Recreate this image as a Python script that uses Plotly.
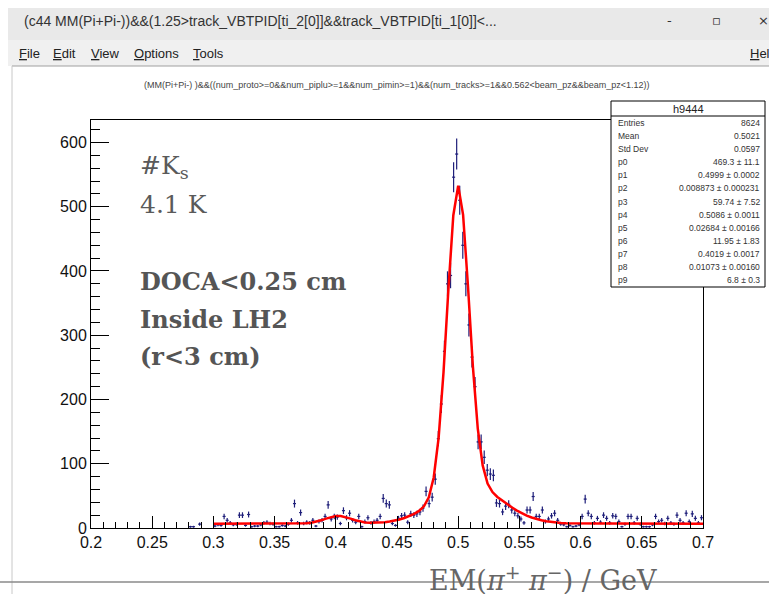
import numpy as np
import plotly.graph_objects as go

# ---------------- data ----------------
bin_width = 0.0025
first_bin_low = 0.28
counts = [2, 2, 0, 6, 0, 0, 0, 0, 3, 5, 4, 18, 12, 8, 5, 6, 20, 20, 4, 21,
          2, 3, 3, 5, 8, 9, 7, 6, 2, 2, 4, 3, 6, 12, 38, 8, 24, 7, 9, 8,
          12, 3, 10, 12, 18, 36, 14, 18, 17, 7, 27, 16, 23, 12, 9, 18, 2, 10, 16, 8,
          10, 12, 18, 46, 38, 36, 7, 4, 15, 19, 20, 9, 22, 20, 22, 25, 31, 57, 38, 48,
          76, 139, 193, 275, 380, 393, 546, 582, 510, 440, 380, 316, 266, 220, 134, 134, 110, 90, 84, 82,
          39, 38, 25, 34, 37, 28, 23, 19, 14, 8, 28, 28, 49, 18, 18, 28, 10, 14, 19, 23,
          12, 6, 5, 2, 4, 2, 3, 5, 18, 45, 23, 18, 8, 15, 9, 20, 15, 8, 19, 18,
          10, 2, 6, 18, 18, 8, 15, 6, 2, 2, 2, 5, 18, 10, 12, 7, 15, 8, 6, 20,
          12, 8, 23, 10, 22, 15, 8, 16]

fit_params = [469.3, 0.4999, 0.008873, 59.74, 0.5086, 0.02684, 11.95, 0.4019, 0.01073, 6.8]
fit_range = [0.3, 0.7]
fit_npx = 101

x_range = [0.2, 0.7]
y_range = [0, 635]
x_tick_vals = [0.2, 0.25, 0.3, 0.35, 0.4, 0.45, 0.5, 0.55, 0.6, 0.65, 0.7]
x_tick_text = ["0.2", "0.25", "0.3", "0.35", "0.4", "0.45", "0.5", "0.55", "0.6", "0.65", "0.7"]
y_tick_vals = [0, 100, 200, 300, 400, 500, 600]

stat_title = "h9444"
stat_labels = ["Entries", "Mean", "Std Dev", "p0", "p1", "p2", "p3", "p4", "p5", "p6", "p7", "p8", "p9"]
stat_values = ["8624", "0.5021", "0.0597", "469.3 ± 11.1", "0.4999 ± 0.0002",
               "0.008873 ± 0.000231", "59.74 ± 7.52", "0.5086 ± 0.0011",
               "0.02684 ± 0.00166", "11.95 ± 1.83", "0.4019 ± 0.0017",
               "0.01073 ± 0.00160", "6.8 ± 0.3"]

window_title = "(c44 MM(Pi+Pi-))&&(1.25>track_VBTPID[ti_2[0]]&&track_VBTPID[ti_1[0]]<..."
menu_items = ["File", "Edit", "View", "Options", "Tools"]
plot_title = "(MM(Pi+Pi-) )&&((num_proto>=0&&num_piplu>=1&&num_pimin>=1)&&(num_tracks>=1&&0.562<beam_pz&&beam_pz<1.12))"
x_label = "EM(<i>π</i><sup>+</sup> <i>π</i><sup>−</sup>) / GeV"

# ---------------- derived ----------------
counts_arr = np.array(counts, dtype=float)
centers = first_bin_low + bin_width * (np.arange(len(counts)) + 0.5)
mask = counts_arr > 0
xc = centers[mask]
yc = counts_arr[mask]
ey = np.sqrt(yc)
ex = np.full_like(xc, bin_width / 2)

p = fit_params
xf = np.linspace(fit_range[0], fit_range[1], fit_npx)
yf = (p[0] * np.exp(-0.5 * ((xf - p[1]) / p[2]) ** 2)
      + p[3] * np.exp(-0.5 * ((xf - p[4]) / p[5]) ** 2)
      + p[6] * np.exp(-0.5 * ((xf - p[7]) / p[8]) ** 2)
      + p[9])

# ---------------- layout geometry (pixels) ----------------
WIDTH, HEIGHT = 769, 594
L, R, T, B = 91, 703, 120, 528
PW, PH = R - L, B - T


def px(x):
    return (x - L) / PW


def py(y):
    return (B - y) / PH


fig = go.Figure()

fig.add_trace(go.Scatter(
    x=xc, y=yc, mode="markers",
    marker=dict(size=1, color="#1f1f7a"),
    error_y=dict(type="data", array=ey, visible=True, color="#1f1f7a", thickness=1.2, width=0),
    error_x=dict(type="data", array=ex, visible=True, color="#1f1f7a", thickness=1.2, width=0),
    showlegend=False, hoverinfo="skip", cliponaxis=True,
))

fig.add_trace(go.Scatter(
    x=xf, y=yf, mode="lines",
    line=dict(color="#ff0000", width=2.5),
    showlegend=False, hoverinfo="skip",
))

shapes = []
annotations = []

# window chrome
shapes.append(dict(type="rect", xref="paper", yref="paper",
                   x0=px(8), x1=px(775), y0=py(8), y1=py(40),
                   fillcolor="#e9e9e9", line=dict(width=0), layer="below"))
shapes.append(dict(type="rect", xref="paper", yref="paper",
                   x0=px(8), x1=px(775), y0=py(40), y1=py(66),
                   fillcolor="#f0f0f0", line=dict(width=0), layer="below"))
shapes.append(dict(type="line", xref="paper", yref="paper",
                   x0=px(12), x1=px(775), y0=py(66), y1=py(66),
                   line=dict(color="#a0a0a0", width=1)))
shapes.append(dict(type="line", xref="paper", yref="paper",
                   x0=px(12), x1=px(12), y0=py(66), y1=py(594),
                   line=dict(color="#c8c8c8", width=1)))
# bottom grey line
shapes.append(dict(type="line", xref="paper", yref="paper",
                   x0=px(0), x1=px(769), y0=py(582), y1=py(582),
                   line=dict(color="#8a8a8a", width=1.5)))

annotations.append(dict(text=window_title, xref="paper", yref="paper",
                        x=px(22), y=py(21), xanchor="left", yanchor="middle",
                        showarrow=False, font=dict(family="Liberation Sans", size=14, color="#333333")))
for sym, xx in [("-", 669), ("▫", 716), ("×", 763)]:
    annotations.append(dict(text=sym, xref="paper", yref="paper",
                            x=px(xx), y=py(21), xanchor="center", yanchor="middle",
                            showarrow=False, font=dict(family="DejaVu Sans", size=13, color="#333333")))
menu_x = [17, 51, 89, 132, 191]
for name, xx in zip(menu_items, menu_x):
    annotations.append(dict(text="<u>" + name[0] + "</u>" + name[1:], xref="paper", yref="paper",
                            x=px(xx), y=py(54), xanchor="left", yanchor="middle",
                            showarrow=False, font=dict(family="Liberation Sans", size=13, color="#222222")))
annotations.append(dict(text="<u>H</u>el", xref="paper", yref="paper",
                        x=px(748), y=py(54), xanchor="left", yanchor="middle",
                        showarrow=False, font=dict(family="Liberation Sans", size=13, color="#222222")))

# plot title
annotations.append(dict(text=plot_title, xref="paper", yref="paper",
                        x=px(397), y=py(85), xanchor="center", yanchor="middle",
                        showarrow=False, font=dict(family="Liberation Sans", size=9, color="#444444")))

# in-plot texts
serif = "DejaVu Serif"
annotations.append(dict(text="#K<sub>s</sub>", xref="paper", yref="paper",
                        x=px(138), y=py(167), xanchor="left", yanchor="middle",
                        showarrow=False, font=dict(family=serif, size=25, color="#5a5a5a")))
annotations.append(dict(text="4.1 K", xref="paper", yref="paper",
                        x=px(138), y=py(204), xanchor="left", yanchor="middle",
                        showarrow=False, font=dict(family=serif, size=25, color="#5a5a5a")))
for txt, yy in [("DOCA&lt;0.25 cm", 281), ("Inside LH2", 319), ("(r&lt;3 cm)", 356)]:
    annotations.append(dict(text="<b>" + txt + "</b>", xref="paper", yref="paper",
                            x=px(138), y=py(yy), xanchor="left", yanchor="middle",
                            showarrow=False, font=dict(family=serif, size=24, color="#555555")))

# x label
annotations.append(dict(text=x_label, xref="paper", yref="paper",
                        x=px(543), y=py(578), xanchor="center", yanchor="middle",
                        showarrow=False, font=dict(family=serif, size=27, color="#666666")))

# stats box
SB_L, SB_R, SB_T, SB_B = 611, 765, 101, 287
HDR = 116
shapes.append(dict(type="rect", xref="paper", yref="paper",
                   x0=px(SB_L), x1=px(SB_R), y0=py(SB_T), y1=py(SB_B),
                   fillcolor="#ffffff", line=dict(color="#000000", width=1), layer="above"))
shapes.append(dict(type="line", xref="paper", yref="paper",
                   x0=px(SB_L), x1=px(SB_R), y0=py(HDR), y1=py(HDR),
                   line=dict(color="#000000", width=1), layer="above"))
annotations.append(dict(text=stat_title, xref="paper", yref="paper",
                        x=px((SB_L + SB_R) / 2), y=py(108.5), xanchor="center", yanchor="middle",
                        showarrow=False, font=dict(family="Liberation Sans", size=11, color="#222222")))
row_h = (SB_B - HDR) / len(stat_labels)
for i, (lab, val) in enumerate(zip(stat_labels, stat_values)):
    yy = HDR + row_h * (i + 0.5)
    annotations.append(dict(text=lab, xref="paper", yref="paper",
                            x=px(SB_L + 5), y=py(yy), xanchor="left", yanchor="middle",
                            showarrow=False, font=dict(family="Liberation Sans", size=8.5, color="#333333")))
    annotations.append(dict(text=val, xref="paper", yref="paper",
                            x=px(SB_R - 3), y=py(yy), xanchor="right", yanchor="middle",
                            showarrow=False, font=dict(family="Liberation Sans", size=8.5, color="#333333")))

fig.update_layout(
    width=WIDTH, height=HEIGHT,
    margin=dict(l=L, r=WIDTH - R, t=T, b=HEIGHT - B, pad=0),
    paper_bgcolor="#ffffff", plot_bgcolor="#ffffff",
    shapes=shapes, annotations=annotations,
    showlegend=False,
)
fig.update_xaxes(
    range=x_range, showgrid=False, zeroline=False,
    showline=True, linecolor="#000000", linewidth=1, mirror=True,
    ticks="inside", ticklen=12, tickcolor="#000000", tickwidth=1,
    tickvals=x_tick_vals, ticktext=x_tick_text,
    tickfont=dict(family="Liberation Sans", size=16, color="#111111"),
    minor=dict(dtick=0.01, tick0=0.2, ticks="inside", ticklen=6, tickcolor="#000000", tickwidth=1, showgrid=False),
)
fig.update_yaxes(
    range=y_range, showgrid=False, zeroline=False,
    showline=True, linecolor="#000000", linewidth=1, mirror=True,
    ticks="inside", ticklen=18, tickcolor="#000000", tickwidth=1,
    tickvals=y_tick_vals,
    tickfont=dict(family="Liberation Sans", size=16, color="#111111"),
    minor=dict(dtick=20, tick0=0, ticks="inside", ticklen=9, tickcolor="#000000", tickwidth=1, showgrid=False),
)

fig.write_html("out.html")
